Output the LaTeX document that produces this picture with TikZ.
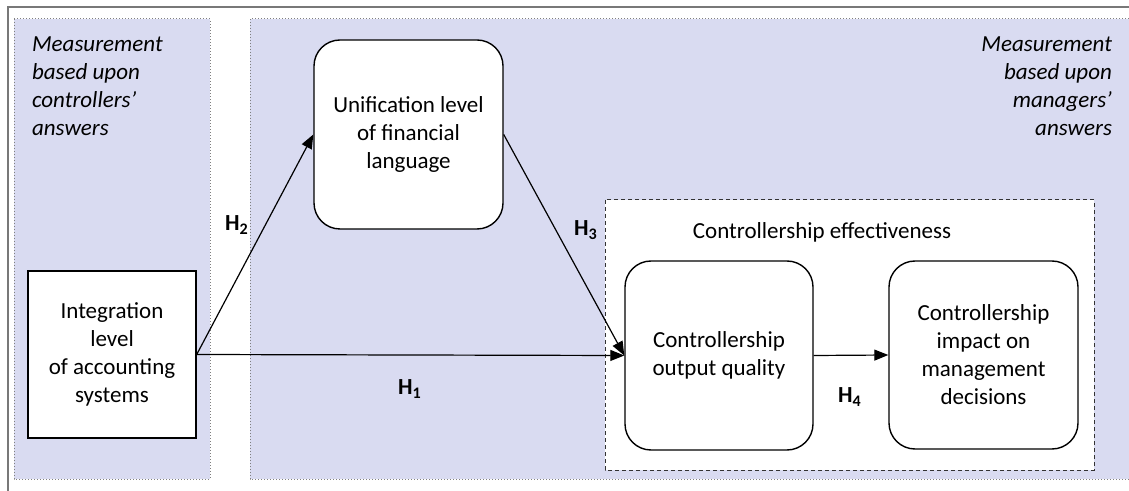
\documentclass[tikz,border=0pt]{standalone}
\usepackage{fontspec}
\setmainfont{Carlito}
\usetikzlibrary{arrows.meta}
\definecolor{panelblue}{RGB}{217,219,241}
\definecolor{framegray}{RGB}{120,120,120}
\tikzset{
  panel/.style={fill=panelblue, draw=gray, densely dotted, line width=0.5pt},
  group/.style={fill=white, draw=black!80, dash pattern=on 2pt off 1.5pt, line width=0.5pt},
  box/.style={draw, fill=white, line width=0.7pt, align=center, inner sep=0pt},
  roundbox/.style={box, rounded corners=13pt},
  note/.style={font=\fontsize{11.5}{14}\selectfont\itshape},
  hyp/.style={font=\fontsize{11.5}{14}\selectfont\bfseries},
}
\begin{document}
\begin{tikzpicture}[x=0.5pt,y=-0.5pt,font=\fontsize{11.5}{14}\selectfont]
  \useasboundingbox (0,0) rectangle (1129,491);
  % frame and the two measurement panels
  \draw[framegray, line width=1pt] (8,495) -- (8,7) -- (1135,7);
  \draw[panel] (14,19) rectangle (210,479);
  \draw[panel] (250,19) rectangle (1140,479);
  \draw[group] (605,200) rectangle (1094,470);
  \node[note, anchor=north west, align=left] (ctrl) at (25,30)
    {Measurement\\based upon\\controllers'\\answers};
  \node[note, anchor=north east, align=right] (mgr) at (1119,30)
    {Measurement\\based upon\\managers'\\answers};
  \node (eff) at (822,232) {Controllership effectiveness};
  % constructs
  \draw
    (112,354.5) node[box, minimum width=84pt, minimum height=83.5pt] (int)
      {Integration\\level\\of accounting\\systems}
    (408.5,134.5) node[roundbox, minimum width=94.5pt, minimum height=94.5pt] (uni)
      {Unification level\\of financial\\language}
    (719,355.5) node[roundbox, minimum width=94pt, minimum height=94.5pt] (out)
      {Controllership\\output quality}
    (983.5,355) node[roundbox, minimum width=94.5pt, minimum height=94pt] (imp)
      {Controllership\\impact on\\management\\decisions};
  % hypotheses
  \begin{scope}[-{Triangle[length=7pt,width=5.5pt]}, line width=0.6pt]
    \draw (int.east) to (uni.west);
    \draw (uni.east) to (out.west);
    \draw (int.east) to (out.west);
    \draw (out.east) to (imp.west);
  \end{scope}
  \node[hyp] (h1) at (410,389) {H\textsubscript{1}};
  \node[hyp] (h2) at (237,225) {H\textsubscript{2}};
  \node[hyp] (h3) at (586,230) {H\textsubscript{3}};
  \node[hyp] (h4) at (850,397) {H\textsubscript{4}};
\end{tikzpicture}
\end{document}
